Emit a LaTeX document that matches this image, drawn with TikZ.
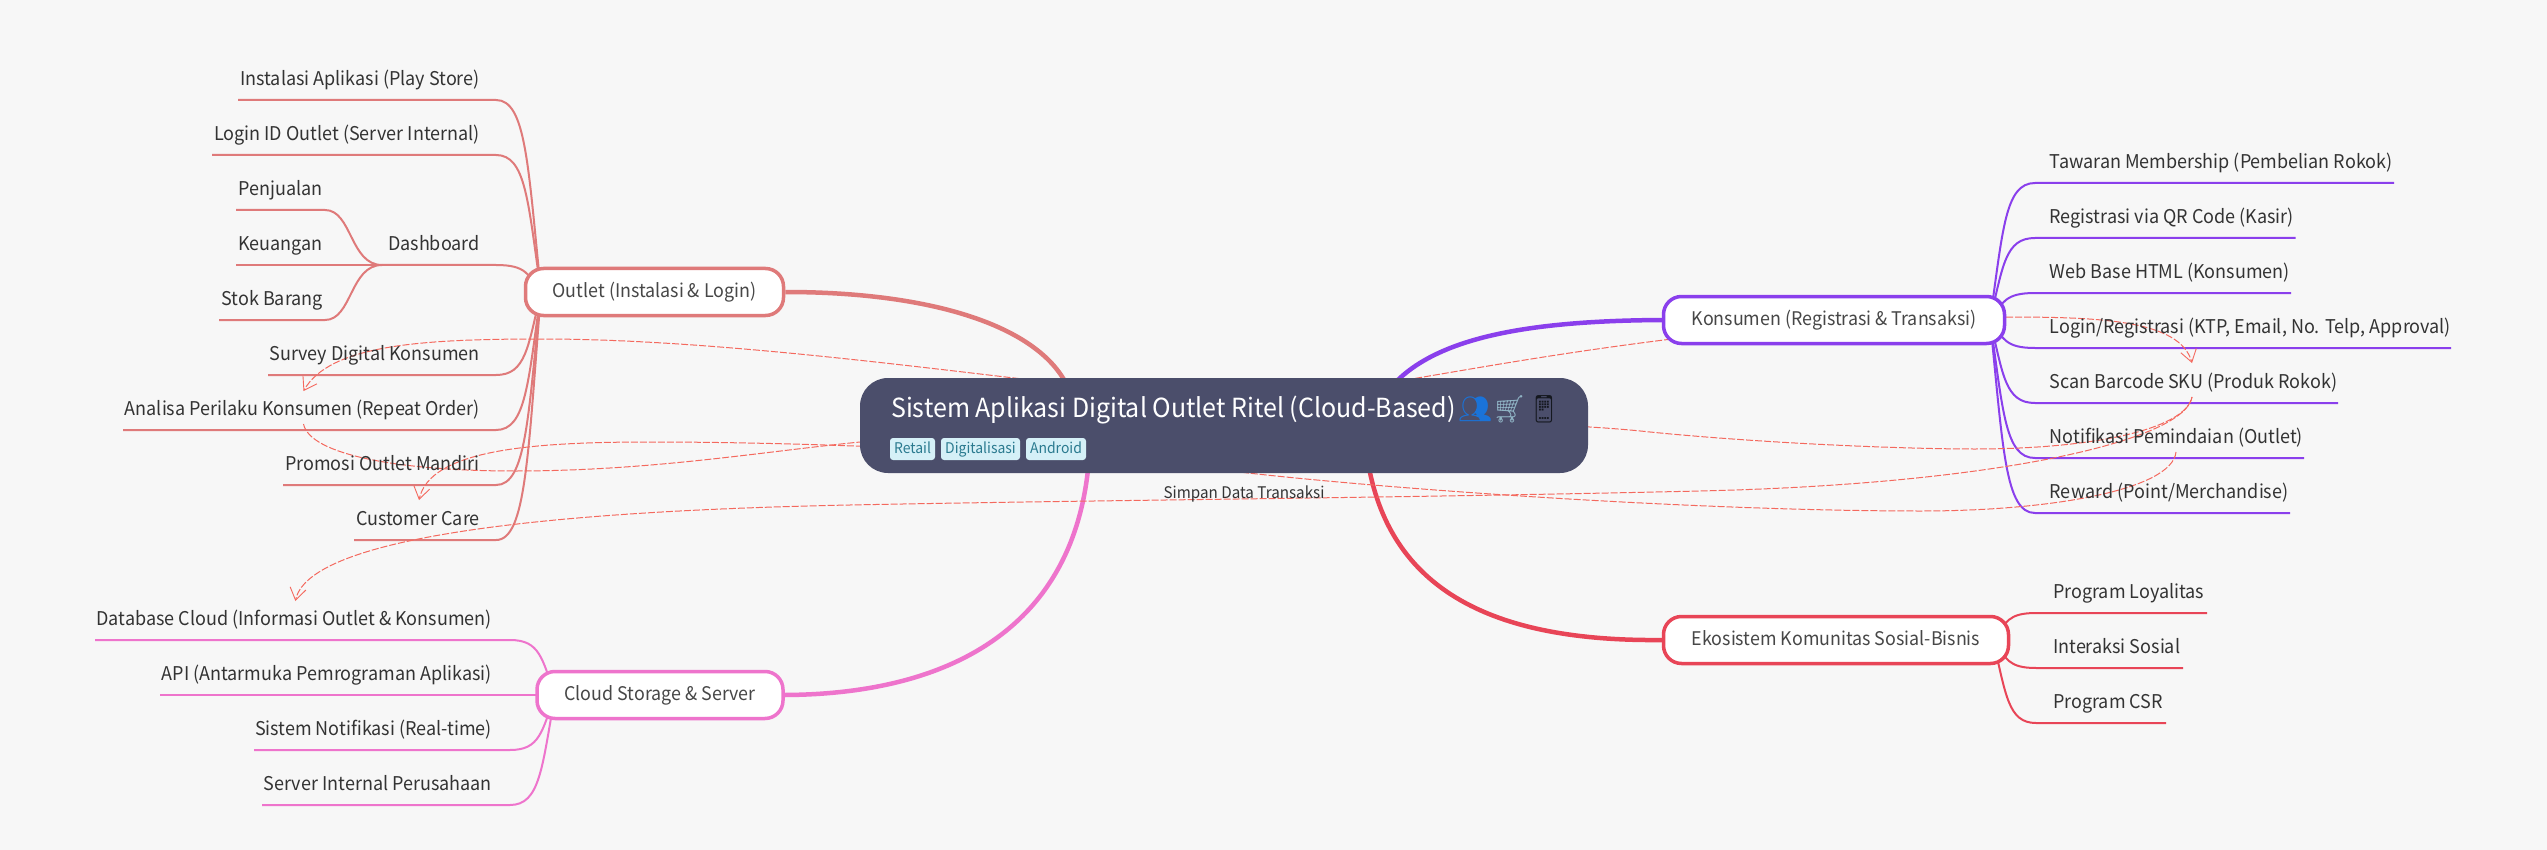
\documentclass[tikz,border=0pt]{standalone}
\usepackage{fontspec}
\setmainfont[FakeStretch=0.95]{Noto Sans CJK SC}
\newfontfamily\emojifont{Noto Emoji}
\usetikzlibrary{arrows.meta,calc}
\definecolor{bgc}{HTML}{F7F7F7}
\definecolor{coreC}{HTML}{4B4E6B}
\definecolor{outl}{HTML}{DF7A7A}
\definecolor{kons}{HTML}{8A3FEC}
\definecolor{eko}{HTML}{E84557}
\definecolor{clou}{HTML}{EE74CC}
\definecolor{rel}{HTML}{F4695E}
\definecolor{ink}{HTML}{333333}
\definecolor{tagf}{HTML}{D5F0F7}
\definecolor{tagt}{HTML}{2A7A8F}
\pgfdeclarelayer{bg}
\pgfsetlayers{bg,main}
\tikzset{
  leaftext/.style={inner sep=0pt,text=ink,font=\fontsize{18.95}{22}\selectfont},
  branch/.style={line width=2pt,rounded corners=0pt},
  mainlink/.style={line width=4.5pt},
  hubnode/.style={draw=#1,fill=white,line width=3.5pt,rounded corners=18pt,inner sep=0pt,
     text=ink!90,font=\fontsize{18.8}{22}\selectfont,text height=14pt,text depth=4pt},
  relline/.style={draw=rel,line width=1pt,dash pattern=on 7pt off 2pt},
  relarrow/.style={relline,-{Straight Barb[length=12pt,width=16pt,line width=0.9pt]}},
  tagbox/.style={fill=tagf,rounded corners=3pt,inner sep=0pt,text=tagt,
     font=\fontsize{14.7}{18}\selectfont,minimum height=22pt,text height=11pt,text depth=3pt},
}
\newcommand\leafL[4]{%
  \node[leaftext,anchor=base east] (#1) at (\textx,#4-14.5) {#2};
  \pgfmathsetmacro\cy{#4+.34*(\huby-#4)}
  \begin{pgfonlayer}{bg}
    \coordinate (#1-a) at (#3,#4);
    \draw[branch,\hubc] (#1-a) -- (\linex,#4) .. controls (\hubx-15,#4) and (\hubx-13,\cy) .. (\hubn);
  \end{pgfonlayer}
}
\newcommand\leafR[4]{%
  \node[leaftext,anchor=base west] (#1) at (\textx,#4-14.5) {#2};
  \pgfmathsetmacro\cy{#4+.34*(\huby-#4)}
  \begin{pgfonlayer}{bg}
    \coordinate (#1-a) at (#3,#4);
    \draw[branch,\hubc] (#1-a) -- (\linex,#4) .. controls (\hubx+15,#4) and (\hubx+13,\cy) .. (\hubn);
  \end{pgfonlayer}
}
\begin{document}
\begin{tikzpicture}[x=1pt,y=-1pt]
\useasboundingbox (0,0) rectangle (2547,850);
\begin{pgfonlayer}{bg}
\fill[bgc] (0,0) rectangle (2547,850);
\end{pgfonlayer}
% hub nodes
\node[hubnode=outl,minimum width=258pt,minimum height=47pt] (outlet) at (654.5,292) {Outlet (Instalasi \& Login)};
\node[hubnode=kons,minimum width=341pt,minimum height=47pt] (konsumen) at (1834,320) {Konsumen (Registrasi \& Transaksi)};
\node[hubnode=eko,minimum width=345pt,minimum height=47pt] (ekosistem) at (1836,640) {Ekosistem Komunitas Sosial-Bisnis};
\node[hubnode=clou,minimum width=246pt,minimum height=47pt] (cloud) at (660,695) {Cloud Storage \& Server};
\coordinate (outlet-h) at (541,292);
\coordinate (kons-h) at (1990,320);
\coordinate (eko-h) at (1993,640);
\coordinate (cloud-h) at (555,695);
\coordinate (core-o) at (1075,420);
\coordinate (core-k) at (1370,425);
\coordinate (core-e) at (1365,440);
\coordinate (core-c) at (1090,440);
% central
\node[fill=coreC,rounded corners=28pt,minimum width=728pt,minimum height=95pt,inner sep=0pt] (core) at (1224,425.5) {};
\node[anchor=base west,inner sep=0pt,text=white,font=\fontsize{26.3}{30}\selectfont] (title) at (891,417)
  {Sistem Aplikasi Digital Outlet Ritel (Cloud-Based)};
\node[anchor=base west,inner sep=0pt,font=\fontsize{27}{30}\selectfont] (icons) at (1458,418)
  {\emojifont\textcolor[HTML]{1A73D9}{\char"1F465}\textcolor[HTML]{8FB3C4}{\char"1F6D2}\textcolor[HTML]{15181F}{\char"1F4F1}};
\node[tagbox,minimum width=45pt] (tag1) at (912.5,449) {Retail};
\node[tagbox,minimum width=79pt] (tag2) at (980.5,449) {Digitalisasi};
\node[tagbox,minimum width=60pt] (tag3) at (1056,449) {Android};
\node[inner sep=0pt,text=ink,font=\fontsize{16}{20}\selectfont] (relLabel) at (1244,494) {Simpan Data Transaksi};
% main links
\begin{pgfonlayer}{bg}
\draw[mainlink,outl] (outlet.east) .. controls (960,292) and (1075,340) .. (core-o);
\draw[mainlink,kons] (konsumen.west) .. controls (1500,321) and (1395,345) .. (core-k);
\draw[mainlink,eko] (ekosistem.west) .. controls (1470,642) and (1378,575) .. (core-e);
\draw[mainlink,clou] (cloud.east) .. controls (960,694) and (1085,620) .. (core-c);
\end{pgfonlayer}
% outlet leaves
\def\hubx{541}\def\huby{292}\def\hubc{outl}\def\hubn{outlet-h}\def\textx{480}\def\linex{496}
\leafL{l1}{Instalasi Aplikasi (Play Store)}{238}{100}
\leafL{l2}{Login ID Outlet (Server Internal)}{212}{155}
\leafL{dash}{Dashboard}{382}{265}
\leafL{l4}{Survey Digital Konsumen}{268}{375}
\leafL{l5}{Analisa Perilaku Konsumen (Repeat Order)}{123}{430}
\leafL{l6}{Promosi Outlet Mandiri}{283}{485}
\leafL{l7}{Customer Care}{354}{540}
% dashboard sub
\node[leaftext,anchor=base east] (d1) at (323,195.5) {Penjualan};
\node[leaftext,anchor=base east] (d2) at (323,250.5) {Keuangan};
\node[leaftext,anchor=base east] (d3) at (323,305.5) {Stok Barang};
\begin{pgfonlayer}{bg}
\coordinate (d1-a) at (236,210);\coordinate (d2-a) at (236,265);\coordinate (d3-a) at (219,320);
\draw[branch,outl] (d1-a) -- (325,210) .. controls (352,210) and (350,265) .. (dash-a);
\draw[branch,outl] (d2-a) -- (dash-a);
\draw[branch,outl] (d3-a) -- (325,320) .. controls (352,320) and (350,265) .. (dash-a);
\end{pgfonlayer}
% konsumen leaves
\def\hubx{1990}\def\huby{320}\def\hubc{kons}\def\hubn{kons-h}\def\textx{2049.5}\def\linex{2035}
\leafR{k1}{Tawaran Membership (Pembelian Rokok)}{2394}{183}
\leafR{k2}{Registrasi via QR Code (Kasir)}{2295.5}{238}
\leafR{k3}{Web Base HTML (Konsumen)}{2291}{293}
\leafR{k4}{Login/Registrasi (KTP, Email, No. Telp, Approval)}{2451}{348}
\leafR{k5}{Scan Barcode SKU (Produk Rokok)}{2338}{403}
\leafR{k6}{Notifikasi Pemindaian (Outlet)}{2304}{458}
\leafR{k7}{Reward (Point/Merchandise)}{2290}{513}
% ekosistem leaves
\def\hubx{1993}\def\huby{640}\def\hubc{eko}\def\hubn{eko-h}\def\textx{2053}\def\linex{2036}
\leafR{e1}{Program Loyalitas}{2207}{613}
\leafR{e2}{Interaksi Sosial}{2183}{668}
\leafR{e3}{Program CSR}{2166}{723}
% cloud leaves
\def\hubx{555}\def\huby{695}\def\hubc{clou}\def\hubn{cloud-h}\def\textx{492}\def\linex{510}
\leafL{c1}{Database Cloud (Informasi Outlet \& Konsumen)}{95}{640}
\leafL{c2}{API (Antarmuka Pemrograman Aplikasi)}{160}{695}
\leafL{c3}{Sistem Notifikasi (Real-time)}{254}{750}
\leafL{c4}{Server Internal Perusahaan}{262}{805}
% relations
\begin{pgfonlayer}{bg}
\coordinate (r1s) at (1680,338);
\coordinate (r1t) at (303.5,391);
\draw[relarrow] (r1s) .. controls (1450,366) and (1340,400) .. (1230,398)
   .. controls (1100,396) and (780,339) .. (542,339)
   .. controls (420,339) and (330,345) .. (r1t);
\coordinate (r2s) at (303.5,424);
\coordinate (r2t) at (2192,397);
\draw[relline] (r2s) .. controls (310,455) and (400,471) .. (515,471)
   .. controls (650,471) and (760,452) .. (860,442)
   .. controls (1000,430) and (1450,410) .. (1650,432)
   .. controls (1760,443) and (1900,449) .. (1975,449)
   .. controls (2090,449) and (2185,430) .. (r2t);
\coordinate (r3s) at (2176,452);
\coordinate (r3t) at (419,500);
\draw[relarrow] (r3s) .. controls (2172,490) and (2050,511) .. (1921,511)
   .. controls (1700,511) and (1400,490) .. (1248,473)
   .. controls (1100,456) and (850,442) .. (650,442)
   .. controls (530,442) and (430,450) .. (r3t);
\coordinate (r4s) at (2006,317);
\coordinate (r4t) at (2192,363);
\draw[relarrow] (r4s) .. controls (2100,317) and (2180,320) .. (r4t);
\coordinate (r5s) at (2192,397);
\coordinate (r5t) at (295.4,601);
\draw[relarrow] (r5s) .. controls (2185,440) and (2000,484) .. (1700,491)
   .. controls (1400,498) and (1100,500) .. (850,505)
   .. controls (600,510) and (310,530) .. (r5t);
\end{pgfonlayer}
\end{tikzpicture}
\end{document}
